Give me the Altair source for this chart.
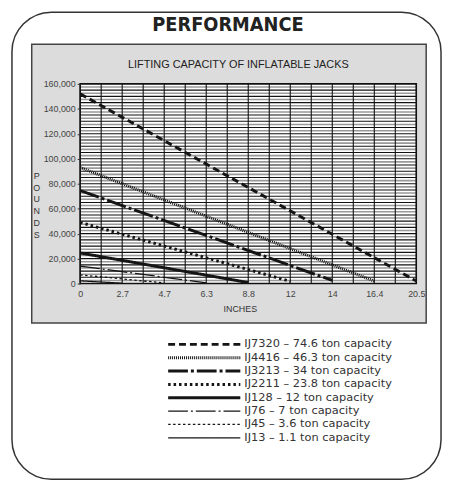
import altair as alt
import pandas as pd

# ---------------- data ----------------
names = ["IJ7320", "IJ4416", "IJ3213", "IJ2211", "IJ128", "IJ76", "IJ45", "IJ13"]
legend_labels = [
    "IJ7320 – 74.6 ton capacity",
    "IJ4416 – 46.3 ton capacity",
    "IJ3213 – 34 ton capacity",
    "IJ2211 – 23.8 ton capacity",
    "IJ128 – 12 ton capacity",
    "IJ76 – 7 ton capacity",
    "IJ45 – 3.6 ton capacity",
    "IJ13 – 1.1 ton capacity",
]
start_lbs = [152000, 93000, 74500, 49000, 24500, 14000, 7000, 2200]
max_height_in = [20.5, 16.4, 14, 12, 8.8, 6.3, 4.7, 2.7]
end_lbs = [2000, 2000, 2500, 1800, 800, 600, 500, 300]
x_ticks = [0, 2.7, 4.7, 6.3, 8.8, 12, 14, 16.4, 20.5]
y_ticks = [0, 20000, 40000, 60000, 80000, 100000, 120000, 140000, 160000]
y_grid_step = 2500

# ---------------- layout / style ----------------
W, H = 340, 202
SANS = "Liberation Sans, Arial, sans-serif"
WIDE = "DejaVu Sans, Verdana, sans-serif"
HEAVY = "DejaVu Sans Condensed, Liberation Sans, sans-serif"
INK = "#151515"
dashes = [[7, 4], [1, 1], [20, 3, 3, 3], [2.5, 3], [1, 0], [20, 3, 2, 3], [2.5, 2.5], [1, 0]]
thick_names = names[:5]
thin_names = names[5:]

lines_df = pd.DataFrame(
    [{"name": n, "inches": 0, "lbs": s} for n, s in zip(names, start_lbs)]
    + [{"name": n, "inches": m, "lbs": e} for n, m, e in zip(names, max_height_in, end_lbs)]
)
legend_df = pd.DataFrame({"name": names, "label": legend_labels, "row": list(range(len(names)))})
hgrid_df = pd.DataFrame({"v": list(range(0, y_ticks[-1] + 1, y_grid_step))})
mids = [(a + b) / 2 for a, b in zip(x_ticks[:-1], x_ticks[1:])]
vgrid_df = pd.DataFrame({"x": sorted(x_ticks + mids)})
one = pd.DataFrame({"k": [0]})

xscale = alt.Scale(domain=x_ticks, range=[i * W / (len(x_ticks) - 1) for i in range(len(x_ticks))], nice=False)
yscale = alt.Scale(domain=[0, y_ticks[-1]], nice=False)
xaxis = alt.Axis(values=x_ticks, format=".3~g", domain=False, ticks=False, grid=False, title=None,
                 labelFont=SANS, labelFontSize=9, labelColor="#444", labelPadding=6,
                 labelFlush=False, labelOverlap=False, zindex=1)
yaxis = alt.Axis(values=y_ticks, format=",d", domain=False, ticks=True, tickSize=3, tickColor="#333",
                 grid=False, title=None, labelFont=SANS, labelFontSize=9, labelColor="#444",
                 labelPadding=2, zindex=1)
dash_scale = alt.Scale(domain=names, range=dashes)
leg_y = alt.Scale(domain=[0, len(names) - 1], range=[263.5, 358])


def box(x0, x1, y0, y1, **kw):
    return alt.Chart(one).mark_rect(**kw).encode(
        x=alt.value(x0), x2=alt.value(x1), y=alt.value(y0), y2=alt.value(y1))


def label(text, x, y, **kw):
    return alt.Chart(one).mark_text(**kw).encode(x=alt.value(x), y=alt.value(y), text=alt.value(text))


frame = box(-69, 365, -72.5, 400, fill="white", stroke="#333", strokeWidth=1.5, cornerRadius=40)
panel = box(-49, 350, -40, 242, fill="#dcdcdc", stroke="#444", strokeWidth=1.5)
plot_bg = box(0, W, 0, H, fill="white")

hgrid = alt.Chart(hgrid_df).mark_rule().encode(
    y=alt.Y("v:Q", scale=yscale, axis=yaxis),
    color=alt.condition(f"datum.v % {2 * y_grid_step} == 0", alt.value("#111111"), alt.value("#999999")),
    strokeWidth=alt.condition(f"datum.v % {2 * y_grid_step} == 0", alt.value(1.1), alt.value(1.6)),
)
vgrid = alt.Chart(vgrid_df).mark_rule(color="#111111", strokeWidth=1.1).encode(
    x=alt.X("x:Q", scale=xscale, axis=xaxis))
border = box(0, W, 0, H, fillOpacity=0, stroke="#111", strokeWidth=1.5)


def series(sel, width):
    return alt.Chart(lines_df).transform_filter(
        alt.FieldOneOfPredicate(field="name", oneOf=sel)
    ).mark_line(color=INK, strokeWidth=width, clip=True).encode(
        x=alt.X("inches:Q", scale=xscale, axis=xaxis),
        y=alt.Y("lbs:Q", scale=yscale, axis=None),
        detail="name:N",
        strokeDash=alt.StrokeDash("name:N", scale=dash_scale, legend=None),
    )


def legend_rules(sel, width):
    return alt.Chart(legend_df).transform_filter(
        alt.FieldOneOfPredicate(field="name", oneOf=sel)
    ).mark_rule(color=INK, strokeWidth=width).encode(
        x=alt.value(89), x2=alt.value(162),
        y=alt.Y("row:Q", scale=leg_y, axis=None),
        strokeDash=alt.StrokeDash("name:N", scale=dash_scale, legend=None),
    )


legend_text = alt.Chart(legend_df).mark_text(
    align="left", baseline="middle", font=WIDE, fontSize=11.5, color="#333"
).encode(x=alt.value(166), y=alt.Y("row:Q", scale=leg_y, axis=None), text="label:N")

title_main = label("PERFORMANCE", 149.5, -53.7, font=HEAVY, fontSize=20, fontWeight="bold",
                   align="center", baseline="alphabetic", color="#222")
title_chart = label("LIFTING CAPACITY OF INFLATABLE JACKS", 160, -16, font=SANS, fontSize=11,
                    align="center", baseline="alphabetic", color="#222")
x_title = label("INCHES", 162, 228, font=SANS, fontSize=9, align="center", baseline="middle", color="#333")
y_title = label("P\nO\nU\nN\nD\nS", -44, 93, font=SANS, fontSize=9, align="center", baseline="middle",
                lineBreak="\n", lineHeight=12, color="#333")

chart = alt.layer(
    frame, panel, plot_bg, hgrid, vgrid, border,
    series(thick_names, 3), series(thin_names, 1.3),
    title_main, title_chart, x_title, y_title,
    legend_rules(thick_names, 3), legend_rules(thin_names, 1.3), legend_text,
).resolve_scale(y="independent").properties(
    width=W, height=H,
    autosize=alt.AutoSizeParams(type="none"),
    padding={"left": 73, "top": 74, "right": 27, "bottom": 200},
    background="white",
).configure_view(stroke=None)

chart.save("out.html", embed_options={"renderer": "svg", "actions": False})
